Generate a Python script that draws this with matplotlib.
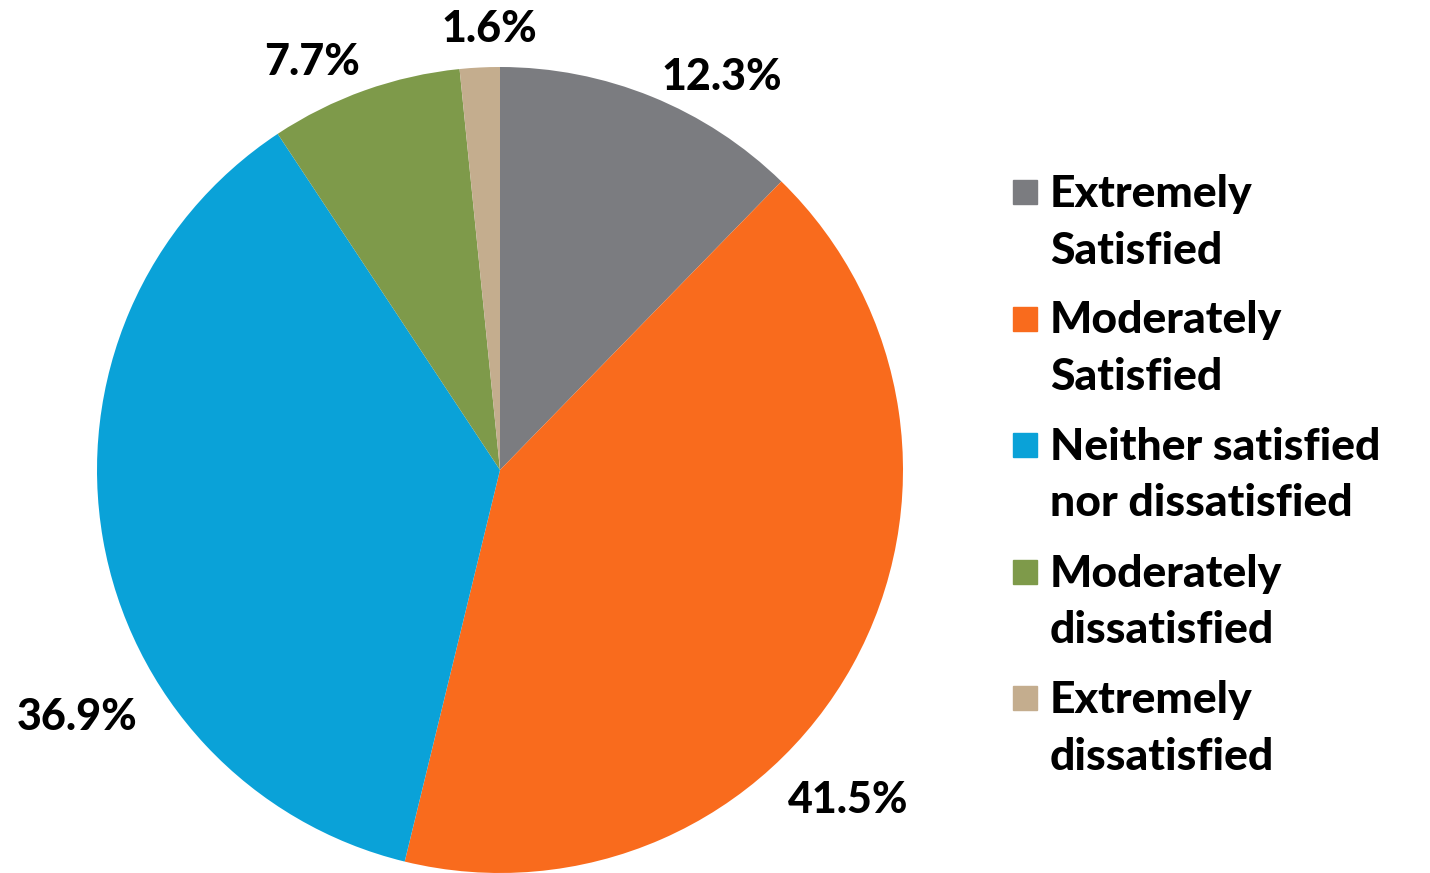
import numpy as np
import matplotlib.pyplot as plt
from matplotlib.patches import Rectangle

categories = ['Extremely\nSatisfied', 'Moderately\nSatisfied', 'Neither satisfied\nnor dissatisfied',
              'Moderately\ndissatisfied', 'Extremely\ndissatisfied']
shares = [12.3, 41.5, 36.9, 7.7, 1.6]
colors = ['#7B7C80', '#F96B1D', '#0AA2D8', '#7E9A4A', '#C4AD8E']

# label placement tweaks (angle offset in deg, distance in radii)
lbl_dang = [-7.3, -14.5, 20.4, 5.1, -1.5]
lbl_dist = [1.12, 1.19, 1.215, 1.114, 1.094]

plt.rcParams['font.family'] = ['Lato', 'DejaVu Sans']
W, H = 1430, 873
fig = plt.figure(figsize=(W / 100, H / 100), dpi=100)
cx, cy, R = 500, 470, 403
ax = fig.add_axes([(cx - R) / W, (H - cy - R) / H, 2 * R / W, 2 * R / H])

wedges, _ = ax.pie(shares, colors=colors, startangle=90, counterclock=False,
                   radius=1, center=(0, 0), frame=True,
                   wedgeprops=dict(linewidth=0))
ax.set_xlim(-1, 1)
ax.set_ylim(-1, 1)
ax.axis('off')

for w, v, da, d in zip(wedges, shares, lbl_dang, lbl_dist):
    mid = np.deg2rad((w.theta1 + w.theta2) / 2 + da)
    ax.text(d * np.cos(mid), d * np.sin(mid), f'{v:.1f}%', ha='center', va='center',
            fontsize=31, fontweight='black', color='black', clip_on=False)

# legend
top0, step = 192, 126.5
for i, (lab, c) in enumerate(zip(categories, colors)):
    yc = top0 + i * step
    fig.patches.append(Rectangle((1013 / W, 1 - (yc + 12) / H), 24 / W, 24 / H,
                                 transform=fig.transFigure, color=c))
    fig.text(1050 / W, 1 - (yc - 18) / H, lab, ha='left', va='top', fontsize=32,
             fontweight='black', linespacing=1.5)

fig.savefig('out.png', dpi=100)
